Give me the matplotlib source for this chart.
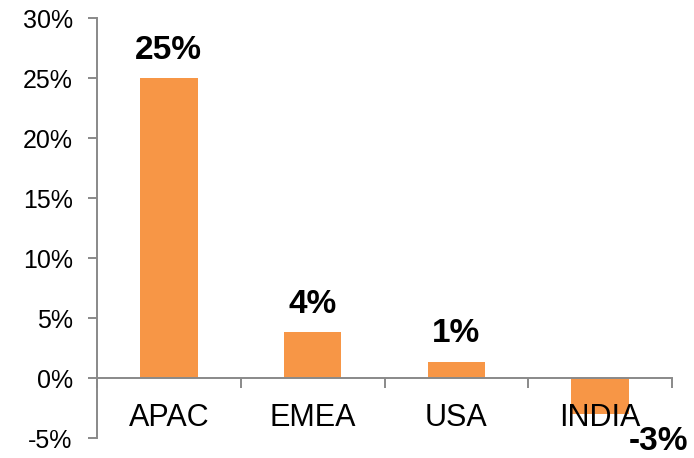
import numpy as np
import matplotlib.pyplot as plt

plt.rcParams['font.family'] = ['Liberation Sans', 'DejaVu Sans']

# datos del grafico
regiones = ['APAC', 'EMEA', 'USA', 'INDIA']
valores = [25.0, 3.8, 1.35, -3.0]
etiquetas = ['25%', '4%', '1%', '-3%']
yticks = [-5, 0, 5, 10, 15, 20, 25, 30]

naranja = '#F79646'
gris = '#898989'

fig = plt.figure(figsize=(6.94, 4.58), dpi=100)
ax = fig.add_axes([97 / 694, 20 / 458, 575 / 694, 420 / 458])

x = np.arange(len(regiones)) + 0.5
ax.bar(x, valores, width=0.4, color=naranja, zorder=1)

ax.set_xlim(0, len(regiones))
ax.set_ylim(-5, 30)

# eje y
ax.set_yticks(yticks)
ax.set_yticklabels([f'{v}%' for v in yticks], fontsize=18)
ax.tick_params(axis='y', length=6.5, width=1.4, color=gris, pad=11)

# eje x en el cero, marcas entre categorias
ax.spines['bottom'].set_position(('data', 0))
ax.set_xticks(np.arange(len(regiones) + 1))
ax.set_xticklabels([])
ax.set_xticks(x, minor=True)
ax.set_xticklabels(regiones, minor=True, fontsize=22)
ax.tick_params(axis='x', which='major', length=7, width=1.4, color=gris, direction='out')
ax.tick_params(axis='x', which='minor', length=0, pad=18)

for lado in ['top', 'right']:
    ax.spines[lado].set_visible(False)
for lado in ['left', 'bottom']:
    ax.spines[lado].set_color(gris)
    ax.spines[lado].set_linewidth(1.4)

# etiquetas de datos
for xi, v, t in zip(x, valores, etiquetas):
    if v >= 0:
        ax.annotate(t, (xi, v), xytext=(0, 14), textcoords='offset points',
                    ha='center', va='baseline', fontsize=24, fontweight='bold')
    else:
        ax.annotate(t, (xi, v), xytext=(42, -9), textcoords='offset points',
                    ha='center', va='top', fontsize=24, fontweight='bold')

plt.savefig('out.png', dpi=100)
